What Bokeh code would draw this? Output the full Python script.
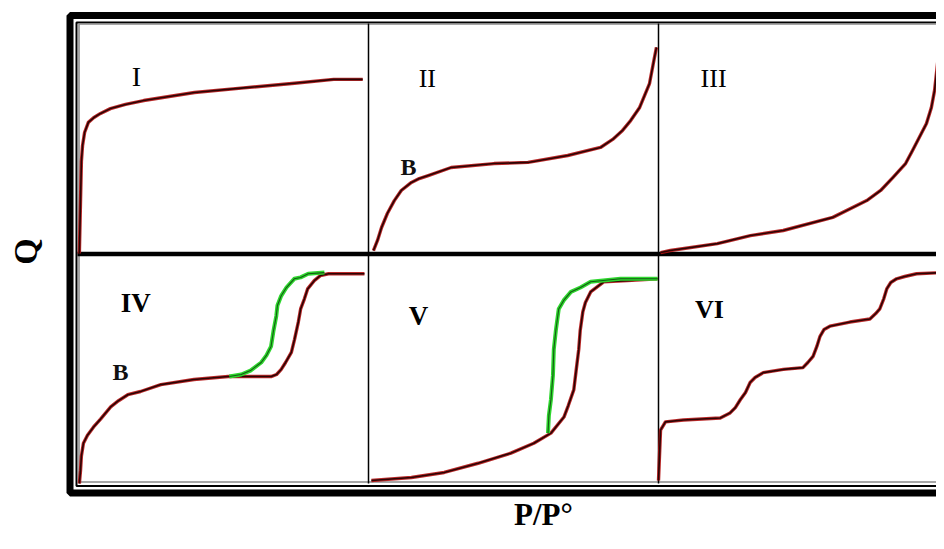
from bokeh.plotting import figure
from bokeh.models import Range1d, Label
from bokeh.embed import file_html
from bokeh.resources import INLINE

# ---- data: P/P° (0-1) and Q (0-1) inside each panel ----
t1_x = [0.003, 0.007, 0.010, 0.014, 0.021, 0.034, 0.052, 0.076, 0.110, 0.162, 0.225, 0.400, 0.570, 0.745, 0.880, 0.980]
t1_y = [0.000, 0.230, 0.400, 0.470, 0.526, 0.570, 0.590, 0.609, 0.630, 0.648, 0.665, 0.700, 0.720, 0.740, 0.757, 0.757]

t2_x = [0.017, 0.031, 0.045, 0.065, 0.089, 0.113, 0.148, 0.175, 0.206, 0.285, 0.433, 0.550, 0.687, 0.800, 0.842, 0.876, 0.904, 0.935, 0.969, 0.986, 0.993]
t2_y = [0.013, 0.057, 0.113, 0.174, 0.230, 0.274, 0.309, 0.326, 0.339, 0.374, 0.391, 0.396, 0.426, 0.461, 0.496, 0.535, 0.578, 0.635, 0.739, 0.852, 0.896]

t3_x = [0.007, 0.041, 0.203, 0.317, 0.430, 0.601, 0.718, 0.766, 0.808, 0.852, 0.876, 0.924, 0.941, 0.952, 0.966]
t3_y = [0.004, 0.013, 0.043, 0.078, 0.100, 0.157, 0.230, 0.274, 0.330, 0.391, 0.448, 0.565, 0.635, 0.709, 0.870]

t4a_x = [0.003, 0.007, 0.010, 0.017, 0.031, 0.052, 0.076, 0.111, 0.138, 0.170, 0.214, 0.284, 0.398, 0.516, 0.664, 0.683, 0.699, 0.714, 0.734, 0.745, 0.758, 0.766, 0.779, 0.790, 0.813, 0.834, 0.862, 0.986]
t4a_y = [0.000, 0.057, 0.120, 0.175, 0.210, 0.246, 0.280, 0.333, 0.360, 0.386, 0.400, 0.430, 0.452, 0.465, 0.465, 0.474, 0.496, 0.526, 0.570, 0.627, 0.702, 0.759, 0.803, 0.846, 0.882, 0.904, 0.912, 0.912]
t4d_x = [0.520, 0.561, 0.593, 0.630, 0.648, 0.664, 0.672, 0.682, 0.686, 0.699, 0.717, 0.744, 0.766, 0.792, 0.848]
t4d_y = [0.465, 0.474, 0.491, 0.526, 0.557, 0.596, 0.661, 0.728, 0.774, 0.816, 0.852, 0.890, 0.896, 0.912, 0.917]

t5a_x = [0.010, 0.148, 0.261, 0.378, 0.491, 0.570, 0.629, 0.674, 0.689, 0.708, 0.716, 0.725, 0.730, 0.739, 0.748, 0.766, 0.811, 0.893, 0.997]
t5a_y = [0.013, 0.026, 0.048, 0.088, 0.132, 0.175, 0.219, 0.289, 0.339, 0.408, 0.491, 0.583, 0.665, 0.746, 0.787, 0.833, 0.877, 0.882, 0.890]
t5d_x = [0.619, 0.622, 0.629, 0.636, 0.639, 0.646, 0.656, 0.673, 0.698, 0.731, 0.766, 0.869, 0.997]
t5d_y = [0.219, 0.296, 0.364, 0.470, 0.583, 0.665, 0.759, 0.796, 0.833, 0.852, 0.877, 0.890, 0.890]

t6_x = [0.000, 0.007, 0.024, 0.086, 0.213, 0.247, 0.265, 0.282, 0.300, 0.316, 0.333, 0.361, 0.430, 0.498, 0.515, 0.533, 0.546, 0.557, 0.571, 0.591, 0.660, 0.729, 0.749, 0.763, 0.777, 0.787, 0.801, 0.821, 0.849, 0.890, 0.979]
t6_y = [0.013, 0.232, 0.268, 0.276, 0.285, 0.307, 0.330, 0.364, 0.396, 0.439, 0.461, 0.482, 0.496, 0.504, 0.526, 0.553, 0.596, 0.640, 0.670, 0.684, 0.702, 0.715, 0.739, 0.759, 0.804, 0.846, 0.874, 0.890, 0.900, 0.912, 0.917]

panel_names = ["I", "II", "III", "IV", "V", "VI"]
name_pos = [(0.200, 0.770), (0.203, 0.760), (0.190, 0.760), (0.197, 0.783), (0.172, 0.730), (0.176, 0.757)]
b_labels = [(1, 0, 0.138, 0.378), (0, 1, 0.145, 0.483)]
x_title = "P/P°"
y_title = "Q"

# ---- layout (figure pixels) ----
W, H = 936, 533
PX0, PY0, PW, PH = 78, 483, 290, 230  # px of panel-grid origin, panel size


def U(px):
    return (px - PX0) / PW


def V(py):
    return (PY0 - py) / PH


p = figure(width=W, height=H, output_backend="svg", toolbar_location=None,
           x_range=Range1d(U(0), U(W)), y_range=Range1d(V(H), V(0)),
           min_border=0, background_fill_color="white", border_fill_color="white")
p.axis.visible = False
p.grid.visible = False
p.outline_line_color = None

# frames
p.quad(left=[U(69.5)], right=[U(1000)], top=[V(15)], bottom=[V(492.5)],
       fill_color=None, line_color="black", line_width=7)
p.quad(left=[U(76)], right=[U(1000)], top=[V(22)], bottom=[V(485.5)],
       fill_color=None, line_color="black", line_width=2)
p.quad(left=[U(78.5)], right=[U(1000)], top=[V(23.5)], bottom=[V(481.5)],
       fill_color=None, line_color="#8a8a8a", line_width=1.5)
p.segment(x0=[1, 2], y0=[V(23), V(23)], x1=[1, 2], y1=[V(483), V(483)],
          line_color="black", line_width=1.5)
p.segment(x0=[U(77)], y0=[V(253.5)], x1=[U(1000)], y1=[V(253.5)],
          line_color="black", line_width=4.5)


def red_curve(col, row, xs, ys):
    u = [col + x for x in xs]
    v = [(1 - row) + y for y in ys]
    p.line(u, v, line_color="#b31212", line_width=3.4, line_alpha=0.9, line_join="round")
    p.line(u, v, line_color="#2a0404", line_width=1.6, line_join="round")


def green_curve(col, row, xs, ys):
    u = [col + x for x in xs]
    v = [(1 - row) + y for y in ys]
    p.line(u, v, line_color="#2ed62e", line_width=4, line_join="round")
    p.line(u, v, line_color="#145a14", line_width=1.1, line_join="round")


red_curve(0, 0, t1_x, t1_y)
red_curve(1, 0, t2_x, t2_y)
red_curve(2, 0, t3_x, t3_y)
red_curve(0, 1, t4a_x, t4a_y)
green_curve(0, 1, t4d_x, t4d_y)
red_curve(1, 1, t5a_x, t5a_y)
green_curve(1, 1, t5d_x, t5d_y)
red_curve(2, 1, t6_x, t6_y)

sizes = ["28px", "26px", "26px", "27px", "27px", "26px"]
for i, (name, (lx, ly)) in enumerate(zip(panel_names, name_pos)):
    col, row = i % 3, i // 3
    p.add_layout(Label(x=col + lx, y=(1 - row) + ly, text=name, text_font="Liberation Serif",
                       text_font_size=sizes[i], text_align="center", text_baseline="middle",
                       text_color="black",
                       text_font_style="normal" if i < 3 else "bold"))
for col, row, lx, ly in b_labels:
    p.add_layout(Label(x=col + lx, y=(1 - row) + ly, text="B", text_font="Liberation Serif",
                       text_font_size="24px", text_font_style="bold", text_align="center",
                       text_baseline="middle", text_color="#111111"))

p.add_layout(Label(x=U(25), y=V(251), text=y_title, text_font="Liberation Serif",
                   text_font_size="34px", text_font_style="bold", angle=1.5708,
                   text_align="center", text_baseline="middle", text_color="black"))
p.add_layout(Label(x=U(543), y=V(531), text=x_title, text_font="Liberation Serif",
                   text_font_size="31px", text_font_style="bold",
                   text_align="center", text_baseline="bottom", text_color="black"))

open("out.html", "w").write(file_html(p, INLINE))
